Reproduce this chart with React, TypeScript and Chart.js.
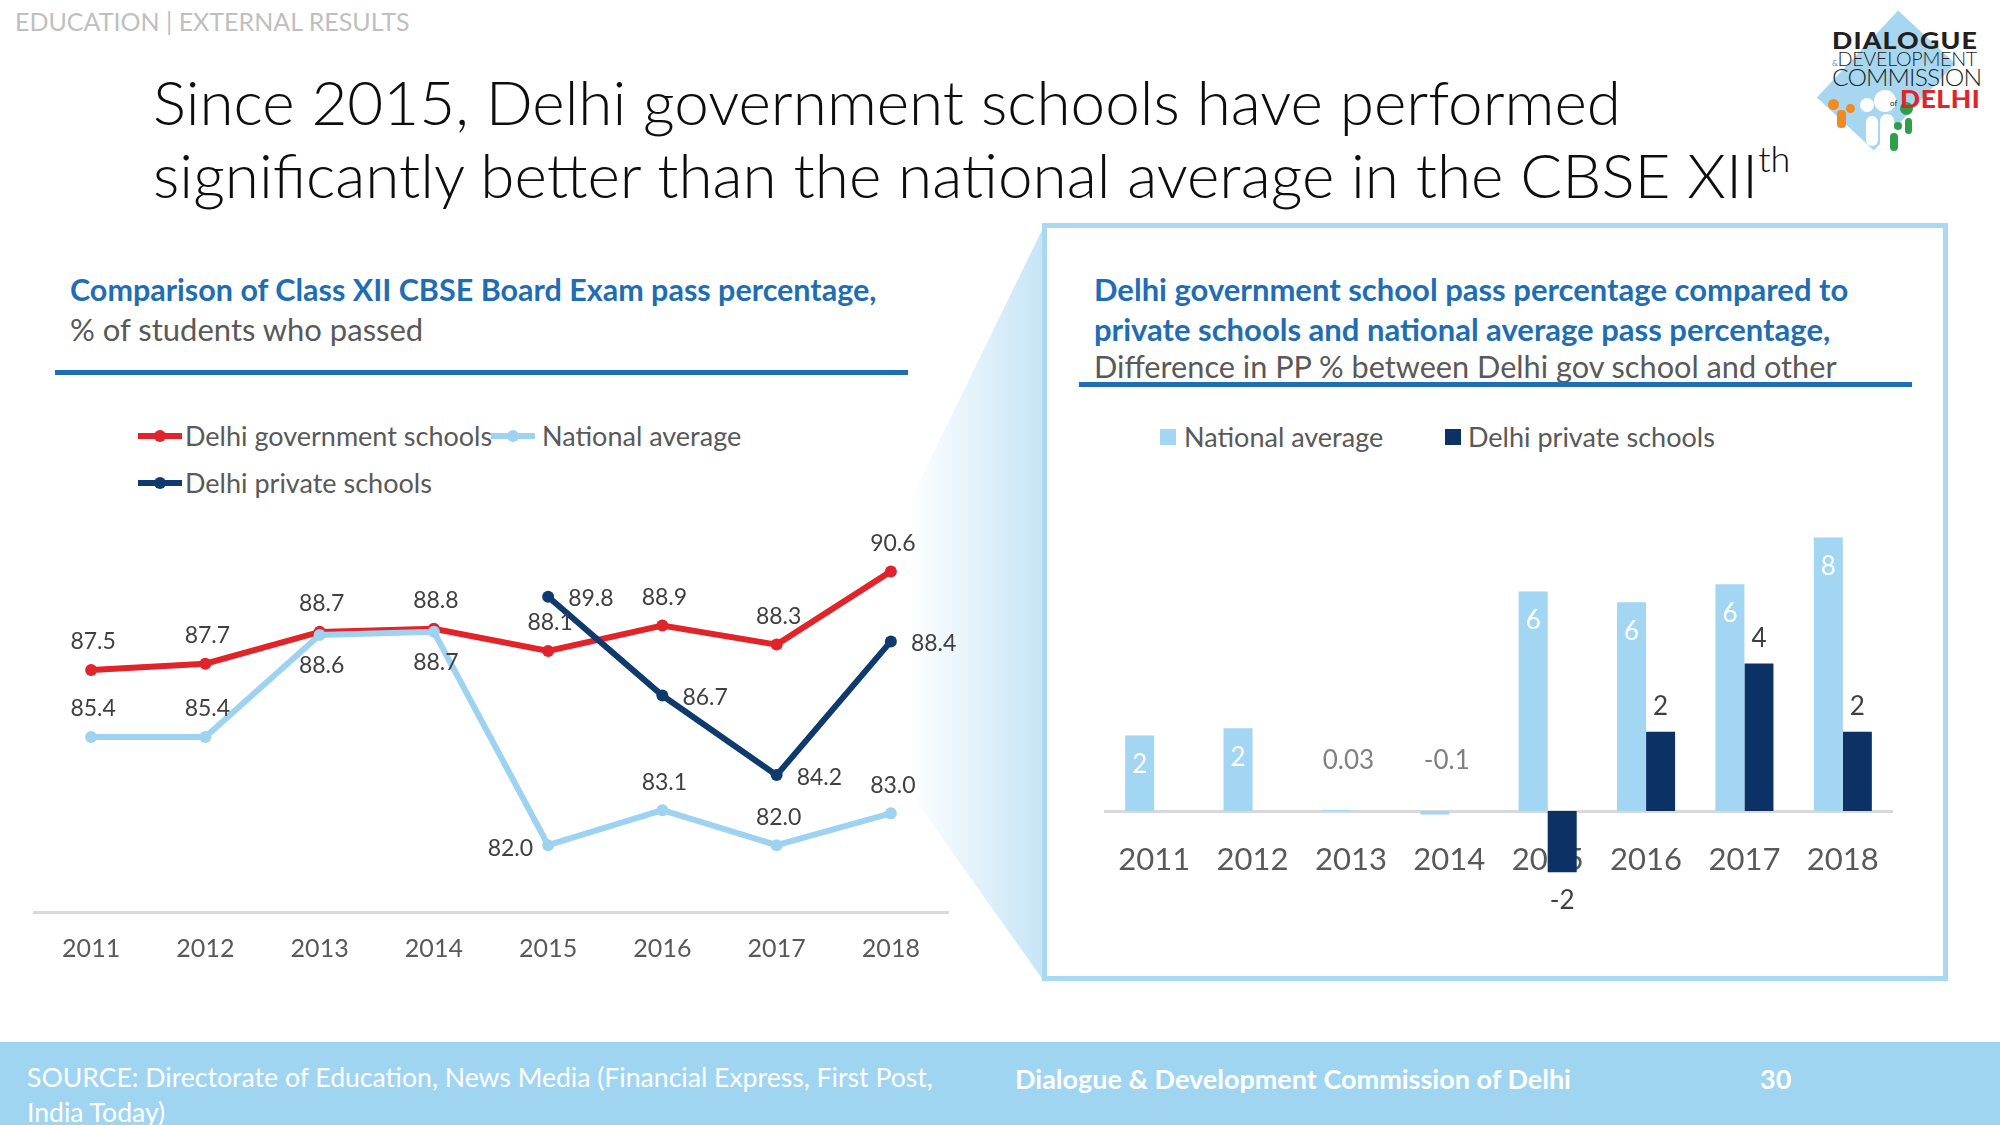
import React, { useEffect, useRef } from "react";
import { Chart, registerables } from "chart.js";

Chart.register(...registerables);

// ---------- data ----------
const years = ["2011", "2012", "2013", "2014", "2015", "2016", "2017", "2018"];
const delhiGov = [87.5, 87.7, 88.7, 88.8, 88.1, 88.9, 88.3, 90.6];
const nationalAvg = [85.4, 85.4, 88.6, 88.7, 82.0, 83.1, 82.0, 83.0];
const delhiPrivate = [null, null, null, null, 89.8, 86.7, 84.2, 88.4];
const govLabelPos = ["above", "above", "above", "above", "above", "above", "above", "above"];
const natLabelPos = ["above", "above", "below", "below", "left", "above", "above", "above"];
const privLabelPos = ["", "", "", "", "right", "right", "right", "right"];

const diffNational = [2.1, 2.3, 0.03, -0.1, 6.1, 5.8, 6.3, 7.6];
const diffPrivate = [null, null, null, null, -1.7, 2.2, 4.1, 2.2];

const lineSeriesNames = ["Delhi government schools", "National average", "Delhi private schools"];
const barSeriesNames = ["National average", "Delhi private schools"];

// ---------- style ----------
const FONT = "Lato, 'Open Sans', sans-serif";
const RED = "#E2232A";
const LIGHT = "#9DD3F0";
const NAVY = "#0F3A6E";
const BAR_LIGHT = "#A3D6F2";
const BAR_NAVY = "#0B3165";
const BLUE_TXT = "#1F6DB3";
const GRAY_TXT = "#595959";
const LABEL_TXT = "#404040";

const fmtDiff = (v: number) => (Math.abs(v) >= 1 ? String(Math.round(v)) : String(v));

const lineLabelPlugin = {
  id: "lineLabels",
  afterDatasetsDraw(chart: any) {
    const ctx = chart.ctx;
    const positions = [govLabelPos, natLabelPos, privLabelPos];
    chart.data.datasets.forEach((ds: any, di: number) => {
      const meta = chart.getDatasetMeta(di);
      meta.data.forEach((pt: any, i: number) => {
        const v = ds.data[i];
        if (v == null) return;
        const p = positions[di][i];
        const t = Number(v).toFixed(1);
        ctx.save();
        ctx.font = `23px ${FONT}`;
        ctx.fillStyle = LABEL_TXT;
        ctx.textBaseline = "middle";
        if (p === "above") {
          ctx.textAlign = "center";
          ctx.fillText(t, pt.x + 2, pt.y - 28);
        } else if (p === "below") {
          ctx.textAlign = "center";
          ctx.fillText(t, pt.x + 2, pt.y + 31);
        } else if (p === "right") {
          ctx.textAlign = "left";
          ctx.fillText(t, pt.x + 20, pt.y + 2);
        } else if (p === "left") {
          ctx.textAlign = "right";
          ctx.fillText(t, pt.x - 15, pt.y + 3);
        }
        ctx.restore();
      });
    });
  },
};

const barLabelPlugin = {
  id: "barLabels",
  afterDatasetsDraw(chart: any) {
    const ctx = chart.ctx;
    const zero = chart.scales.y.getPixelForValue(0);
    chart.data.datasets.forEach((ds: any, di: number) => {
      const meta = chart.getDatasetMeta(di);
      meta.data.forEach((bar: any, i: number) => {
        const v = ds.data[i];
        if (v == null) return;
        const t = fmtDiff(v);
        ctx.save();
        ctx.font = `26px ${FONT}`;
        ctx.textAlign = "center";
        ctx.textBaseline = "middle";
        if (di === 0) {
          if (Math.abs(v) >= 1) {
            ctx.fillStyle = "#FFFFFF";
            ctx.fillText(t, bar.x, bar.y + 29);
          } else {
            ctx.fillStyle = "#808080";
            ctx.fillText(t, bar.x + 12, zero - 50);
          }
        } else {
          ctx.fillStyle = LABEL_TXT;
          if (v >= 0) ctx.fillText(t, bar.x, bar.y - 25);
          else ctx.fillText(t, bar.x, bar.y + 28);
        }
        ctx.restore();
      });
    });
  },
};

function LineChart() {
  const ref = useRef<HTMLCanvasElement | null>(null);
  useEffect(() => {
    if (!ref.current) return;
    const mk = (label: string, data: any[], color: string, order: number) => ({
      label,
      data,
      borderColor: color,
      backgroundColor: color,
      pointBackgroundColor: color,
      pointBorderColor: color,
      borderWidth: 6,
      pointRadius: 6,
      pointBorderWidth: 0,
      tension: 0,
      order,
    });
    const chart = new Chart(ref.current, {
      type: "line",
      data: {
        labels: years,
        datasets: [
          mk(lineSeriesNames[0], delhiGov, RED, 2),
          mk(lineSeriesNames[1], nationalAvg, LIGHT, 1),
          mk(lineSeriesNames[2], delhiPrivate, NAVY, 0),
        ],
      },
      options: {
        animation: false,
        responsive: false,
        events: [],
        layout: { padding: { left: 20, right: 46, top: 30, bottom: 16 } },
        plugins: { legend: { display: false }, tooltip: { enabled: false } },
        scales: {
          x: {
            offset: true,
            grid: { display: false, drawTicks: false },
            border: { color: "#D9D9D9", width: 3 },
            ticks: { color: GRAY_TXT, font: { family: FONT, size: 25 }, padding: 22 },
          },
          y: { display: false, min: 79.9, max: 91.9 },
        },
      },
      plugins: [lineLabelPlugin],
    } as any);
    return () => chart.destroy();
  }, []);
  return (
    <canvas
      ref={ref}
      width={980}
      height={502}
      style={{ position: "absolute", left: 14, top: 500, width: 980, height: 502 }}
    />
  );
}

function BarChart() {
  const ref = useRef<HTMLCanvasElement | null>(null);
  useEffect(() => {
    if (!ref.current) return;
    const chart = new Chart(ref.current, {
      type: "bar",
      data: {
        labels: years,
        datasets: [
          { label: barSeriesNames[0], data: diffNational, backgroundColor: BAR_LIGHT, categoryPercentage: 0.59, barPercentage: 1 },
          { label: barSeriesNames[1], data: diffPrivate, backgroundColor: BAR_NAVY, categoryPercentage: 0.59, barPercentage: 1 },
        ],
      },
      options: {
        animation: false,
        responsive: false,
        events: [],
        layout: { padding: { left: 25, right: 38, top: 25, bottom: 41 } },
        plugins: { legend: { display: false }, tooltip: { enabled: false } },
        scales: {
          x: {
            position: { y: 0 },
            grid: { display: false, drawTicks: false },
            border: { color: "#D9D9D9", width: 3 },
            ticks: { color: GRAY_TXT, font: { family: FONT, size: 31 }, padding: 30 },
          },
          y: { display: false, min: -3, max: 8.5 },
        },
      },
      plugins: [barLabelPlugin],
    } as any);
    return () => chart.destroy();
  }, []);
  return (
    <canvas
      ref={ref}
      width={850}
      height={480}
      style={{ position: "absolute", left: 1080, top: 480, width: 850, height: 480 }}
    />
  );
}

function Txt(props: { x: number; base: number; size: number; color?: string; weight?: number; sx?: number; children: any; style?: any }) {
  const { x, base, size, color, weight, sx, children, style } = props;
  return (
    <div
      style={{
        position: "absolute",
        left: x,
        top: base - 0.887 * size,
        fontSize: size,
        lineHeight: `${size}px`,
        color: color || "#000",
        fontWeight: weight || 400,
        whiteSpace: "nowrap",
        transform: sx ? `scaleX(${sx})` : undefined,
        transformOrigin: "left center",
        ...style,
      }}
    >
      {children}
    </div>
  );
}

function LineMarker({ x, y, color }: { x: number; y: number; color: string }) {
  return (
    <div style={{ position: "absolute", left: x, top: y - 3, width: 44, height: 6, background: color }}>
      <div style={{ position: "absolute", left: 16, top: -3, width: 12, height: 12, borderRadius: 6, background: color }} />
    </div>
  );
}

function Logo() {
  return (
    <div style={{ position: "absolute", left: 1810, top: 0, width: 190, height: 165 }}>
      <div
        style={{
          position: "absolute",
          left: 37,
          top: 21,
          width: 78,
          height: 119,
          background: "#A7D6F0",
          transform: "rotate(43deg)",
        }}
      />
      <div style={{ position: "absolute", left: 18, top: 99, width: 11, height: 11, borderRadius: 6, background: "#F08A24" }} />
      <div style={{ position: "absolute", left: 27, top: 110, width: 9, height: 18, borderRadius: 4, background: "#F08A24" }} />
      <div style={{ position: "absolute", left: 36, top: 104, width: 9, height: 9, borderRadius: 5, background: "#F08A24" }} />
      <div style={{ position: "absolute", left: 50, top: 98, width: 14, height: 14, borderRadius: 7, background: "#fff" }} />
      <div style={{ position: "absolute", left: 64, top: 90, width: 22, height: 22, borderRadius: 11, background: "#fff" }} />
      <div style={{ position: "absolute", left: 56, top: 116, width: 12, height: 30, borderRadius: 6, background: "#fff" }} />
      <div style={{ position: "absolute", left: 70, top: 114, width: 14, height: 36, borderRadius: 7, background: "#fff" }} />
      <div style={{ position: "absolute", left: 90, top: 102, width: 13, height: 13, borderRadius: 7, background: "#2E9E48" }} />
      <div style={{ position: "absolute", left: 84, top: 122, width: 8, height: 8, borderRadius: 4, background: "#2E9E48" }} />
      <div style={{ position: "absolute", left: 80, top: 133, width: 8, height: 18, borderRadius: 4, background: "#2E9E48" }} />
      <div style={{ position: "absolute", left: 95, top: 118, width: 7, height: 16, borderRadius: 4, background: "#2E9E48" }} />
      <Txt x={22} base={49} size={23} weight={900} color="#231F20" sx={1.16} style={{ letterSpacing: 1 }}>DIALOGUE</Txt>
      <Txt x={22} base={66} size={19} weight={300} color="#231F20" sx={1.04} style={{ letterSpacing: -0.3 }}>
        <span style={{ fontSize: 8 }}>&amp;</span>DEVELOPMENT
      </Txt>
      <Txt x={22} base={86} size={23} weight={300} color="#231F20" sx={1.07} style={{ letterSpacing: -0.8 }}>COMMISSION</Txt>
      <Txt x={80} base={106} size={8} weight={400} color="#231F20">of</Txt>
      <Txt x={90} base={108} size={24} weight={900} color="#E2232A" sx={1.1} style={{ letterSpacing: 0.5 }}>DELHI</Txt>
    </div>
  );
}

export default function App() {
  return (
    <div
      style={{
        position: "absolute",
        left: 0,
        top: 0,
        width: 2000,
        height: 1125,
        background: "#FFFFFF",
        overflow: "hidden",
        fontFamily: FONT,
      }}
    >
      {/* callout wedge */}
      <svg width={2000} height={1125} style={{ position: "absolute", left: 0, top: 0 }}>
        <defs>
          <linearGradient id="wedge" x1="908" y1="0" x2="1043" y2="0" gradientUnits="userSpaceOnUse">
            <stop offset="0" stopColor="#C6E5F7" stopOpacity="0" />
            <stop offset="1" stopColor="#C6E5F7" stopOpacity="1" />
          </linearGradient>
        </defs>
        <polygon points="1043,228 908,505 908,790 1043,980" fill="url(#wedge)" />
      </svg>

      {/* header */}
      <Txt x={15} base={31} size={25} color="#BFBFBF">EDUCATION | EXTERNAL RESULTS</Txt>
      <Txt x={153} base={125} size={62} weight={300} color="#0D0D0D">
        Since 2015, Delhi government schools have performed
      </Txt>
      <Txt x={153} base={198} size={62} weight={300} color="#0D0D0D">
        significantly better than the national average in the CBSE XII
        <span style={{ fontSize: 36, position: "relative", top: -26 }}>th</span>
      </Txt>
      <Logo />

      {/* left panel */}
      <Txt x={70} base={301} size={30.5} weight={700} color={BLUE_TXT}>
        Comparison of Class XII CBSE Board Exam pass percentage,
      </Txt>
      <Txt x={70} base={341} size={31} color={GRAY_TXT}>% of students who passed</Txt>
      <div style={{ position: "absolute", left: 55, top: 370, width: 853, height: 5, background: BLUE_TXT }} />

      <LineMarker x={138} y={436} color={RED} />
      <Txt x={185} base={446} size={27} color={GRAY_TXT}>{lineSeriesNames[0]}</Txt>
      <LineMarker x={491} y={436} color={LIGHT} />
      <Txt x={542} base={446} size={27} color={GRAY_TXT}>{lineSeriesNames[1]}</Txt>
      <LineMarker x={138} y={483} color={NAVY} />
      <Txt x={185} base={493} size={27} color={GRAY_TXT}>{lineSeriesNames[2]}</Txt>

      <LineChart />

      {/* right panel */}
      <div
        style={{
          position: "absolute",
          left: 1042,
          top: 223,
          width: 906,
          height: 758,
          border: "5px solid #A8D8F2",
          boxSizing: "border-box",
          background: "#FFFFFF",
        }}
      />
      <Txt x={1094} base={301} size={31} weight={700} color={BLUE_TXT}>
        Delhi government school pass percentage compared to
      </Txt>
      <Txt x={1094} base={341} size={31} weight={700} color={BLUE_TXT}>
        private schools and national average pass percentage,
      </Txt>
      <Txt x={1094} base={379} size={30.7} color={GRAY_TXT}>
        Difference in PP % between Delhi gov school and other
      </Txt>
      <div style={{ position: "absolute", left: 1079, top: 382, width: 833, height: 5, background: BLUE_TXT }} />

      <div style={{ position: "absolute", left: 1160, top: 429, width: 16, height: 16, background: BAR_LIGHT }} />
      <Txt x={1184} base={447} size={27} color={GRAY_TXT}>{barSeriesNames[0]}</Txt>
      <div style={{ position: "absolute", left: 1445, top: 429, width: 16, height: 16, background: BAR_NAVY }} />
      <Txt x={1468} base={447} size={27} color={GRAY_TXT}>{barSeriesNames[1]}</Txt>

      <BarChart />

      {/* footer */}
      <div style={{ position: "absolute", left: 0, top: 1042, width: 2000, height: 83, background: "#9FD5F1" }} />
      <Txt x={27} base={1088} size={26.6} color="#FFFFFF">
        SOURCE: Directorate of Education, News Media (Financial Express, First Post,
      </Txt>
      <Txt x={27} base={1123} size={26.6} color="#FFFFFF">India Today)</Txt>
      <Txt x={1015} base={1089} size={27} weight={700} color="#FFFFFF">
        Dialogue &amp; Development Commission of Delhi
      </Txt>
      <Txt x={1760} base={1089} size={27} weight={700} color="#FFFFFF">30</Txt>
    </div>
  );
}
